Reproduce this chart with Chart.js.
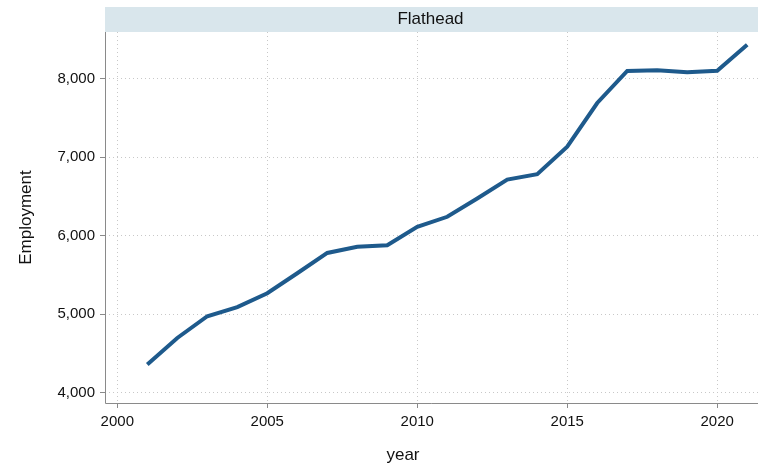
<!DOCTYPE html>
<html>
<head>
<meta charset="utf-8">
<script src="https://cdn.jsdelivr.net/npm/chart.js@4.4.1/dist/chart.umd.min.js"></script>
<style>
  html, body { margin: 0; padding: 0; background: #fff; }
  #wrap { width: 758px; height: 469px; }
</style>
</head>
<body>
<div id="wrap"><canvas id="empChart" width="758" height="469"></canvas></div>
<script>
// Flathead employment by year
const years = [2001, 2002, 2003, 2004, 2005, 2006, 2007, 2008, 2009, 2010, 2011,
               2012, 2013, 2014, 2015, 2016, 2017, 2018, 2019, 2020, 2021];
const employment = [4355, 4695, 4972, 5089, 5265, 5521, 5780, 5859, 5877, 6112, 6241,
                    6475, 6716, 6785, 7135, 7693, 8102, 8110, 8085, 8105, 8437];
const xTicks = [2000, 2005, 2010, 2015, 2020];
const yTicks = [4000, 5000, 6000, 7000, 8000];
const panelTitle = 'Flathead';

const FONT = "'Liberation Sans', Arial, Helvetica, sans-serif";
const GRID = '#c8c8c8';
const AXIS = '#8a8a8a';

// strip, solid axis lines and axis titles, drawn around the chart area
const decorations = {
    id: 'decorations',
    beforeDraw(chart) {
        const { ctx, chartArea } = chart;
        ctx.save();
        ctx.fillStyle = '#d9e6ec';
        ctx.fillRect(chartArea.left, 7, chart.width - chartArea.left, chartArea.top - 7);
        ctx.restore();
    },
    afterDraw(chart) {
        const { ctx, chartArea } = chart;
        ctx.save();
        ctx.strokeStyle = AXIS;
        ctx.lineWidth = 1;
        ctx.setLineDash([]);
        ctx.beginPath();
        ctx.moveTo(chartArea.left + 0.5, chartArea.top);
        ctx.lineTo(chartArea.left + 0.5, chartArea.bottom + 0.5);
        ctx.lineTo(chart.width, chartArea.bottom + 0.5);
        ctx.stroke();

        ctx.fillStyle = '#111';
        ctx.textAlign = 'center';
        ctx.textBaseline = 'middle';
        ctx.font = '17px ' + FONT;
        ctx.fillText(panelTitle, (chartArea.left + chart.width) / 2 - 1, 19);

        ctx.fillText('year', 403, 455);

        ctx.translate(26, (chartArea.top + chartArea.bottom) / 2);
        ctx.rotate(-Math.PI / 2);
        ctx.fillText('Employment', 0, 0);
        ctx.restore();
    }
};

new Chart(document.getElementById('empChart'), {
    type: 'line',
    data: {
        datasets: [{
            data: years.map((y, i) => ({ x: y, y: employment[i] })),
            borderColor: '#1e5a8c',
            borderWidth: 4,
            pointRadius: 0,
            tension: 0,
            fill: false
        }]
    },
    options: {
        responsive: false,
        animation: false,
        layout: { padding: { top: 32, right: 0, left: 0, bottom: 0 } },
        plugins: {
            legend: { display: false },
            tooltip: { enabled: false }
        },
        scales: {
            x: {
                type: 'linear',
                min: 1999.59,
                max: 2021.36,
                afterBuildTicks: (scale) => { scale.ticks = xTicks.map(v => ({ value: v })); },
                afterFit: (scale) => { scale.height = 66; },
                grid: {
                    color: GRID,
                    tickBorderDash: [],
                    tickColor: AXIS,
                    tickLength: 5
                },
                border: { display: false, dash: [1, 3] },
                ticks: {
                    color: '#111',
                    font: { family: FONT, size: 15 },
                    padding: 5,
                    maxRotation: 0,
                    callback: (v) => String(v)
                }
            },
            y: {
                min: 3865,
                max: 8599,
                afterBuildTicks: (scale) => { scale.ticks = yTicks.map(v => ({ value: v })); },
                afterFit: (scale) => { scale.width = 105; },
                grid: {
                    color: GRID,
                    tickBorderDash: [],
                    tickColor: AXIS,
                    tickLength: 5
                },
                border: { display: false, dash: [1, 3] },
                ticks: {
                    color: '#111',
                    font: { family: FONT, size: 15 },
                    padding: 5,
                    callback: (v) => v.toLocaleString('en-US')
                }
            }
        }
    },
    plugins: [decorations]
});
</script>
</body>
</html>
